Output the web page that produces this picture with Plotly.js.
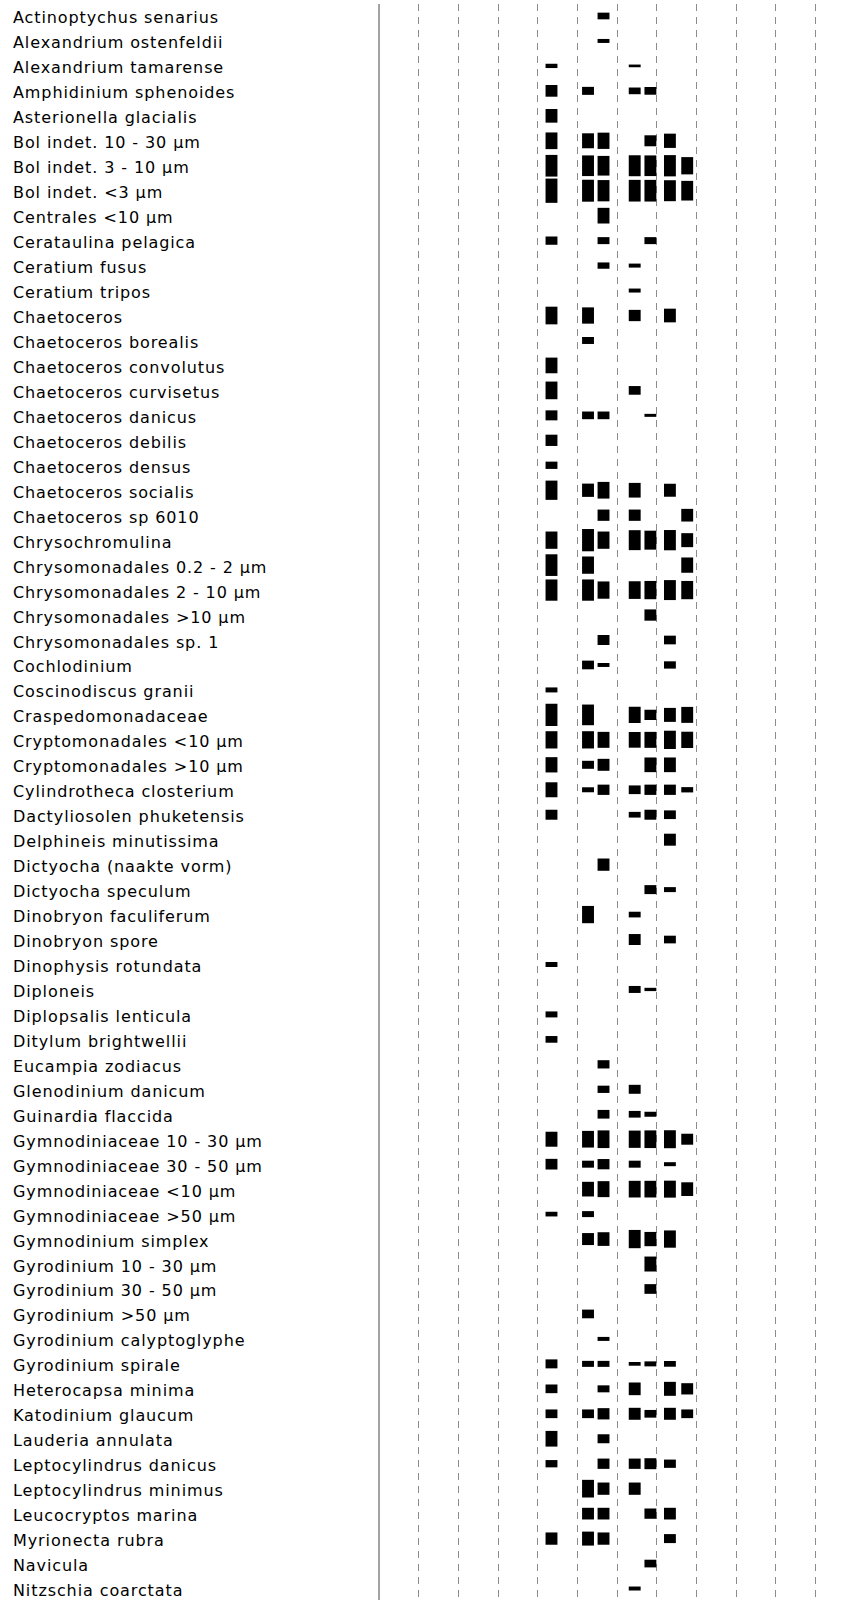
<!DOCTYPE html>
<html>
<head>
<meta charset="utf-8">
<script src="https://cdn.plot.ly/plotly-3.0.1.min.js"></script>
<style>
  html, body { margin: 0; padding: 0; background: #fff; }
  #chart { width: 843px; height: 1600px; }
  #chart .annotation-text { letter-spacing: 0.9px; }
</style>
</head>
<body>
<div id="chart"></div>
<script>
// Species (rows, top to bottom)
const species = [
  "Actinoptychus senarius", "Alexandrium ostenfeldii", "Alexandrium tamarense",
  "Amphidinium sphenoides", "Asterionella glacialis", "Bol indet. 10 - 30 µm",
  "Bol indet. 3 - 10 µm", "Bol indet. <3 µm", "Centrales <10 µm",
  "Cerataulina pelagica", "Ceratium fusus", "Ceratium tripos", "Chaetoceros",
  "Chaetoceros borealis", "Chaetoceros convolutus", "Chaetoceros curvisetus",
  "Chaetoceros danicus", "Chaetoceros debilis", "Chaetoceros densus",
  "Chaetoceros socialis", "Chaetoceros sp 6010", "Chrysochromulina",
  "Chrysomonadales 0.2 - 2 µm", "Chrysomonadales 2 - 10 µm",
  "Chrysomonadales >10 µm", "Chrysomonadales sp. 1", "Cochlodinium",
  "Coscinodiscus granii", "Craspedomonadaceae", "Cryptomonadales <10 µm",
  "Cryptomonadales >10 µm", "Cylindrotheca closterium",
  "Dactyliosolen phuketensis", "Delphineis minutissima",
  "Dictyocha (naakte vorm)", "Dictyocha speculum", "Dinobryon faculiferum",
  "Dinobryon spore", "Dinophysis rotundata", "Diploneis",
  "Diplopsalis lenticula", "Ditylum brightwellii", "Eucampia zodiacus",
  "Glenodinium danicum", "Guinardia flaccida", "Gymnodiniaceae 10 - 30 µm",
  "Gymnodiniaceae 30 - 50 µm", "Gymnodiniaceae <10 µm",
  "Gymnodiniaceae >50 µm", "Gymnodinium simplex", "Gyrodinium 10 - 30 µm",
  "Gyrodinium 30 - 50 µm", "Gyrodinium >50 µm", "Gyrodinium calyptoglyphe",
  "Gyrodinium spirale", "Heterocapsa minima", "Katodinium glaucum",
  "Lauderia annulata", "Leptocylindrus danicus", "Leptocylindrus minimus",
  "Leucocryptos marina", "Myrionecta rubra", "Navicula", "Nitzschia coarctata"
];

// Sampling moments (in months from the start of the year)
const sampleMonths = [4.344, 5.265, 5.656, 6.442, 6.838, 7.330, 7.766];

// Abundance scores per sampling moment (null = not observed), one entry per species
const n = null;
const sample1 = [n,n,4.3,11.7,13.7,16.7,21.7,24.3,n,8.3, n,n,17.7,n,15.7,17.7,10,11.3,7.3,19.3,
  n,17.3,21.7,21.3,n,n,n,5,22.3,17.3, 15.3,15,10,n,n,n,n,n,5,n, 6,6.7,n,n,n,15,10.7,n,4.7,n,
  n,n,n,n,9,8.7,8.7,15.7,7.3,n, n,12.3,n,n];
const sample2 = [n,n,n,8,n,15,20.7,22,n,n, n,n,16.3,7,n,n,7.7,n,n,13.3,
  n,22.3,17.3,21.3,n,n,8.7,n,20.7,17.3, 8,5,n,n,n,n,17.3,n,n,n, n,n,n,n,n,16.7,7,14.7,6,12,
  n,n,8.7,n,6,n,8.7,n,n,17.7, 11.7,14,n,n];
const sample3 = [6.7,4,n,n,n,16.3,19.7,21.3,15.7,7, 6.3,n,n,n,n,n,7.7,n,n,16.7,
  11.3,17.3,n,17.3,n,10,4,n,n,16, 12,10.3,n,n,12.3,n,n,n,n,n, n,n,8.3,7.3,8.7,17.7,10.3,16,n,13.7,
  n,n,n,4,6,7,11.3,9,10.3,12.3, 11.7,12.3,n,n];
const sample4 = [n,n,2.7,6.7,n,n,21,21.7,n,n, 4,4,11.3,n,n,8.7,n,n,n,14.7,
  11.3,20,n,17.7,n,n,n,n,16.3,15.7, n,8.7,5.7,n,n,n,5.7,11,n,7, n,n,n,9,6.7,17.3,7,16.7,n,18.3,
  n,n,n,n,3.7,12.7,12,n,10.3,12.3, n,n,n,4];
const sample5 = [n,n,n,7.7,n,11,20.7,21.7,n,7, n,n,n,n,n,n,3,n,n,n,
  n,19,n,18.3,11.3,n,n,n,10.3,16, 14.7,10.3,10,n,n,9,n,n,n,3.3, n,n,n,n,5,17.7,n,16.7,n,14.3,
  15,9.7,n,n,5,n,7.7,n,11,n, 10.3,n,7.7,n];
const sample6 = [n,n,n,n,n,14.3,21.3,21,n,n, n,n,13.7,n,n,n,n,n,n,13,
  n,20.3,n,20,n,8.7,7.3,n,14,18.3, 14.7,10.3,8.7,12,n,5,n,7.7,n,n, n,n,n,n,n,18,4,17,n,17.3,
  n,n,n,n,5.7,14,12,n,8.3,n, 11.7,9,n,n];
const sample7 = [n,n,n,n,n,n,17.3,19.7,n,n, n,n,n,n,n,n,n,n,n,n,
  12.7,14,15.3,18.3,n,n,n,n,16,16.3, n,5.3,n,n,n,n,n,n,n,n, n,n,n,n,n,11,n,13.7,n,n,
  n,n,n,n,n,11.3,8.7,n,n,n, n,n,n,n];

const samples = [sample1, sample2, sample3, sample4, sample5, sample6, sample7];
const SCORE_PER_ROW = 25;   // a score of 25 fills one full row

const xs = [], ys = [], bases = [];
samples.forEach((col, j) => {
  col.forEach((v, i) => {
    if (v === null) return;
    const h = v / SCORE_PER_ROW;
    xs.push(sampleMonths[j]);
    ys.push(h);
    bases.push(i - h / 2);
  });
});

const trace = {
  type: 'bar',
  x: xs,
  y: ys,
  base: bases,
  width: 0.3,
  marker: { color: '#000000', line: { width: 0 } },
  hoverinfo: 'skip'
};

const plotLeft = 380, plotW = 843 - plotLeft;
const annotations = species.map((s, i) => ({
  text: s,
  xref: 'paper', yref: 'y',
  x: (11 - plotLeft) / plotW, y: i,
  xanchor: 'left', yanchor: 'middle', align: 'left',
  width: 340,
  yshift: -2,
  showarrow: false,
  font: { family: 'DejaVu Sans, Verdana, sans-serif', size: 16, color: '#000' }
}));

const layout = {
  width: 843,
  height: 1600,
  margin: { l: plotLeft, r: 0, t: 4, b: 0, pad: 0 },
  paper_bgcolor: '#ffffff',
  plot_bgcolor: '#ffffff',
  showlegend: false,
  barmode: 'overlay',
  hovermode: false,
  xaxis: {
    range: [0.02, 0.02 + plotW / 39.66],
    tick0: 0, dtick: 1,
    showgrid: true, gridcolor: '#8c8c8c', gridwidth: 1, griddash: '7px,6px',
    zeroline: false, showline: false, showticklabels: false, ticks: '',
    fixedrange: true
  },
  yaxis: {
    range: [63.46, -0.48],
    showgrid: false, zeroline: false,
    showline: true, linecolor: '#a3a3a3', linewidth: 2,
    showticklabels: false, ticks: '',
    fixedrange: true
  },
  annotations: annotations
};

Plotly.newPlot('chart', [trace], layout, { displayModeBar: false, staticPlot: true });
</script>
</body>
</html>
